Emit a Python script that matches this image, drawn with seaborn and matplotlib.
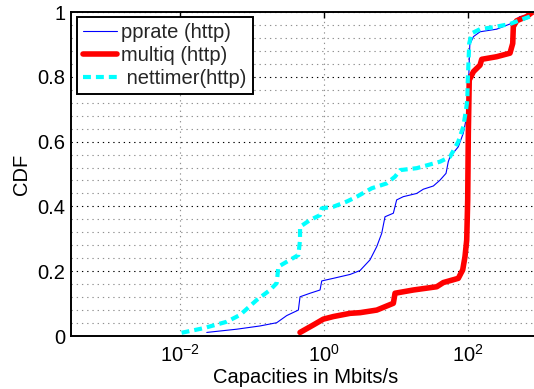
import numpy as np
import pandas as pd
import matplotlib
matplotlib.use("Agg")
import matplotlib.pyplot as plt
from matplotlib.ticker import FixedLocator, NullLocator
import seaborn as sns

# Capacity estimates (Mbit/s) and their empirical CDF, per tool
pprate_x = [0.0235, 0.0613, 0.129, 0.220, 0.303, 0.440, 0.464, 0.640, 0.880, 0.929,
            1.346, 2.30, 3.16, 4.35, 5.40, 6.33, 7.03, 9.18, 10.2, 12.6, 19.4, 23.9,
            33.0, 40.8, 49.5, 53.2, 56.2, 73.3, 86.0, 93.8, 98.0, 102.0, 104.0, 106.0,
            119.0, 147.0, 250.0, 383.0, 527.0, 726.0, 850.0]
pprate_y = [0.011, 0.021, 0.031, 0.041, 0.063, 0.080, 0.121, 0.132, 0.142, 0.170,
            0.178, 0.190, 0.202, 0.235, 0.276, 0.317, 0.368, 0.379, 0.420, 0.430,
            0.440, 0.453, 0.463, 0.481, 0.502, 0.538, 0.553, 0.584, 0.626, 0.667,
            0.700, 0.780, 0.850, 0.900, 0.924, 0.939, 0.947, 0.963, 0.986, 0.991, 1.0]

multiq_x = [0.464, 0.709, 0.977, 1.346, 2.30, 3.16, 5.40, 9.18, 9.69, 17.4, 36.8,
            45.4, 73.3, 84.4, 90.8, 95.9, 99.0, 101.0, 104.0, 119.0, 147.0, 155.0,
            250.0, 383.0, 418.0, 426.0, 475.0, 653.0, 767.0, 800.0]
multiq_y = [0.011, 0.034, 0.052, 0.060, 0.070, 0.072, 0.080, 0.101, 0.132, 0.142,
            0.152, 0.165, 0.178, 0.204, 0.245, 0.296, 0.420, 0.627, 0.790, 0.816,
            0.836, 0.854, 0.862, 0.873, 0.903, 0.955, 0.973, 0.986, 0.998, 1.0]

nettimer_x = [0.0105, 0.0211, 0.0446, 0.0681, 0.116, 0.178, 0.220, 0.232, 0.303,
              0.440, 0.464, 0.464, 0.640, 0.880, 0.929, 1.346, 2.07, 2.85, 4.60,
              7.43, 9.69, 11.4, 19.4, 40.8, 56.2, 73.3, 86.0, 93.8, 97.8, 99.0,
              101.0, 104.0, 112.0, 147.0, 224.0, 383.0, 527.0, 726.0, 807.0, 850.0]
nettimer_y = [0.010, 0.024, 0.044, 0.065, 0.111, 0.142, 0.163, 0.214, 0.229, 0.250,
              0.296, 0.337, 0.358, 0.373, 0.394, 0.399, 0.415, 0.430, 0.456, 0.471,
              0.492, 0.512, 0.518, 0.538, 0.553, 0.600, 0.646, 0.698, 0.728, 0.781,
              0.831, 0.903, 0.934, 0.947, 0.953, 0.963, 0.975, 0.986, 0.996, 1.0]

labels = ["pprate (http)", "multiq (http)", " nettimer(http)"]
x_ticks = [1e-2, 1e0, 1e2]
y_ticks = [0.0, 0.2, 0.4, 0.6, 0.8, 1.0]
y_ticklabels = ["0", "0.2", "0.4", "0.6", "0.8", "1"]
y_minor = [v / 100 for v in range(4, 100, 4) if v % 20 != 0]

sns.set_theme(style="white")
plt.rcParams["font.family"] = ["Liberation Sans", "DejaVu Sans"]
plt.rcParams["mathtext.default"] = "regular"

FS = 14.5
NET_DASH = (1.9, 1.2)

fig = plt.figure(figsize=(5.34, 3.89), dpi=100)
ax = fig.add_axes([71 / 534, 53 / 389, 469 / 534, 324 / 389])

series = [
    (pprate_x, pprate_y, labels[0], dict(color="#0000ff", linewidth=0.8), None),
    (multiq_x, multiq_y, labels[1], dict(color="#ff0000", linewidth=4.0), None),
    (nettimer_x, nettimer_y, labels[2], dict(color="#00ffff", linewidth=3.0), NET_DASH),
]

for xs, ys, lab, style, dashes in series:
    df = pd.DataFrame({"cap": xs, "cdf": ys})
    sns.lineplot(data=df, x="cap", y="cdf", ax=ax, sort=False,
                 estimator=None, label=lab, **style)
    if dashes is not None:
        ax.get_lines()[-1].set_dashes(dashes)

ax.set_xscale("log")
ax.set_xlim(10 ** -3.515, 1000)
ax.set_ylim(0, 1)

ax.xaxis.set_major_locator(FixedLocator(x_ticks))
ax.xaxis.set_minor_locator(NullLocator())
ax.yaxis.set_major_locator(FixedLocator(y_ticks))
ax.yaxis.set_minor_locator(FixedLocator(y_minor))
ax.set_yticklabels(y_ticklabels)

ax.tick_params(which="both", direction="in", top=True, right=True, labelsize=FS,
               colors="black", width=1.0)
ax.tick_params(which="major", length=4, pad=4)
ax.tick_params(which="minor", length=2.5)
ax.tick_params(axis="x", which="major", pad=6)

dot = (0, (1.2, 3.5))
ax.grid(True, axis="y", which="major", color="black", linestyle=dot, linewidth=0.8)
ax.grid(True, axis="y", which="minor", color="#909090", linestyle=dot, linewidth=0.8)
ax.grid(True, axis="x", which="major", color="#909090", linestyle=dot, linewidth=0.8)
ax.set_axisbelow(True)

for sp in ax.spines.values():
    sp.set_color("black")
    sp.set_linewidth(1.4)

ax.set_xlabel("Capacities in Mbits/s", fontsize=FS, color="black", labelpad=1)
ax.set_ylabel("CDF", fontsize=FS, color="black", labelpad=5)

leg = ax.legend(loc="upper left", bbox_to_anchor=(6 / 469, 1 - 5 / 324),
                borderaxespad=0, fontsize=FS, frameon=True, fancybox=False,
                handlelength=1.7, handletextpad=0.2, labelspacing=0.2,
                borderpad=0.3)
leg.get_frame().set_edgecolor("black")
leg.get_frame().set_linewidth(1.4)
leg.get_frame().set_alpha(1.0)
leg.get_lines()[2].set_dashes(NET_DASH)

fig.savefig("out.png", dpi=100)
